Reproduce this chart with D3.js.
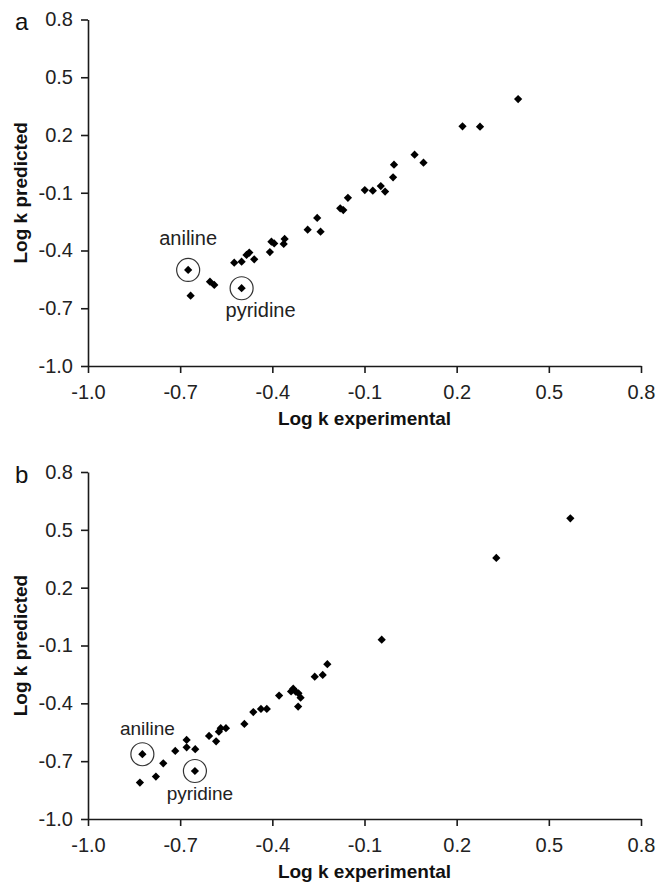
<!DOCTYPE html>
<html>
<head>
<meta charset="utf-8">
<script src="https://cdn.jsdelivr.net/npm/d3@7"></script>
<style>
  html, body { margin: 0; padding: 0; background: #fff; }
  svg { display: block; }
  .tick text { font-family: "Liberation Sans", Arial, sans-serif; font-size: 20px; fill: #222; }
</style>
</head>
<body>
<svg id="chart" width="657" height="884"></svg>
<script>
// ---------- data ----------
const tickValues = [-1.0, -0.7, -0.4, -0.1, 0.2, 0.5, 0.8];
const tickLabels = ["-1.0", "-0.7", "-0.4", "-0.1", "0.2", "0.5", "0.8"];

// Panel a
const aExperimental = [0.400, 0.219, 0.276, 0.063, 0.092, -0.004, -0.007, -0.047, -0.033, -0.073,
  -0.099, -0.154, -0.179, -0.169, -0.254, -0.285, -0.243, -0.360, -0.363, -0.403,
  -0.394, -0.408, -0.475, -0.484, -0.459, -0.500, -0.524, -0.603, -0.589, -0.666,
  -0.674, -0.500];
const aPredicted = [0.387, 0.245, 0.243, 0.098, 0.056, 0.046, -0.020, -0.065, -0.094, -0.089,
  -0.086, -0.126, -0.181, -0.190, -0.231, -0.292, -0.302, -0.340, -0.366, -0.354,
  -0.363, -0.408, -0.411, -0.423, -0.446, -0.458, -0.463, -0.562, -0.579, -0.635,
  -0.501, -0.596];
const aHighlight = [
  { name: "aniline", exp: -0.674, pred: -0.501 },
  { name: "pyridine", exp: -0.500, pred: -0.596 }
];

// Panel b
const bExperimental = [0.570, 0.329, -0.044, -0.221, -0.236, -0.262, -0.316, -0.308, -0.315, -0.324,
  -0.332, -0.339, -0.378, -0.418, -0.437, -0.462, -0.491, -0.551, -0.568, -0.574,
  -0.583, -0.606, -0.651, -0.679, -0.679, -0.716, -0.755, -0.779, -0.831,
  -0.823, -0.652];
const bPredicted = [0.560, 0.354, -0.070, -0.197, -0.253, -0.262, -0.417, -0.371, -0.348, -0.339,
  -0.324, -0.338, -0.360, -0.429, -0.429, -0.445, -0.507, -0.529, -0.529, -0.547,
  -0.597, -0.569, -0.638, -0.628, -0.590, -0.647, -0.711, -0.780, -0.811,
  -0.664, -0.751];
const bHighlight = [
  { name: "aniline", exp: -0.823, pred: -0.664 },
  { name: "pyridine", exp: -0.652, pred: -0.751 }
];

const xTitle = "Log k experimental";
const yTitle = "Log k predicted";

// ---------- drawing ----------
const svg = d3.select("#chart");
const FONT = "'Liberation Sans', Arial, sans-serif";

function drawPanel(cfg) {
  const g = svg.append("g");
  const x = d3.scaleLinear().domain([-1.0, 0.8]).range([88, 641]);
  const y = d3.scaleLinear().domain([-1.0, 0.8]).range([cfg.bottom, cfg.top]);
  const fmt = (d) => tickLabels[tickValues.indexOf(d)];

  const xAxis = g.append("g")
    .attr("transform", `translate(0,${cfg.bottom})`)
    .call(d3.axisBottom(x).tickValues(tickValues).tickFormat(fmt).tickSizeOuter(0).tickSizeInner(7).tickPadding(12));
  const yAxis = g.append("g")
    .attr("transform", `translate(88,0)`)
    .call(d3.axisLeft(y).tickValues(tickValues).tickFormat(fmt).tickSizeOuter(0).tickSizeInner(7).tickPadding(8));
  [xAxis, yAxis].forEach(a => {
    a.select(".domain").attr("stroke", "#1a1a1a").attr("stroke-width", 1.6);
    a.selectAll(".tick line").attr("stroke", "#1a1a1a").attr("stroke-width", 1.6);
    a.selectAll(".tick text").attr("fill", "#222");
  });

  // points
  const pts = cfg.exp.map((e, i) => ({ exp: e, pred: cfg.pred[i] }));
  g.append("g").selectAll("path")
    .data(pts)
    .join("path")
    .attr("d", d3.symbol().type(d3.symbolSquare).size(34))
    .attr("transform", d => `translate(${x(d.exp)},${y(d.pred)}) rotate(45)`)
    .attr("fill", "#000");

  // highlighted compounds
  cfg.highlight.forEach((h, i) => {
    g.append("circle")
      .attr("cx", x(h.exp)).attr("cy", y(h.pred)).attr("r", 11.5)
      .attr("fill", "none").attr("stroke", "#333").attr("stroke-width", 1.2);
    const off = cfg.labelOffsets[i];
    g.append("text")
      .attr("x", x(h.exp) + off[0]).attr("y", y(h.pred) + off[1])
      .attr("text-anchor", "middle")
      .attr("font-family", FONT).attr("font-size", cfg.labelSize)
      .attr("fill", "#222")
      .text(h.name);
  });

  // axis titles
  g.append("text")
    .attr("x", (x.range()[0] + x.range()[1]) / 2)
    .attr("y", cfg.bottom + 59)
    .attr("text-anchor", "middle")
    .attr("font-family", FONT).attr("font-weight", "bold").attr("font-size", 19)
    .attr("fill", "#111")
    .text(xTitle);
  g.append("text")
    .attr("transform", `translate(27,${(cfg.top + cfg.bottom) / 2}) rotate(-90)`)
    .attr("text-anchor", "middle")
    .attr("font-family", FONT).attr("font-weight", "bold").attr("font-size", 19)
    .attr("fill", "#111")
    .text(yTitle);

  // panel letter
  g.append("text")
    .attr("x", 15).attr("y", cfg.top + cfg.letterDy)
    .attr("font-family", FONT).attr("font-size", 24)
    .attr("fill", "#111")
    .text(cfg.letter);
}

drawPanel({
  letter: "a", top: 19.5, bottom: 366, letterDy: 10,
  exp: aExperimental, pred: aPredicted, highlight: aHighlight,
  labelOffsets: [[0, -25], [19, 29]], labelSize: 20
});
drawPanel({
  letter: "b", top: 472, bottom: 819, letterDy: 11,
  exp: bExperimental, pred: bPredicted, highlight: bHighlight,
  labelOffsets: [[5, -19], [5, 29]], labelSize: 19
});
</script>
</body>
</html>
